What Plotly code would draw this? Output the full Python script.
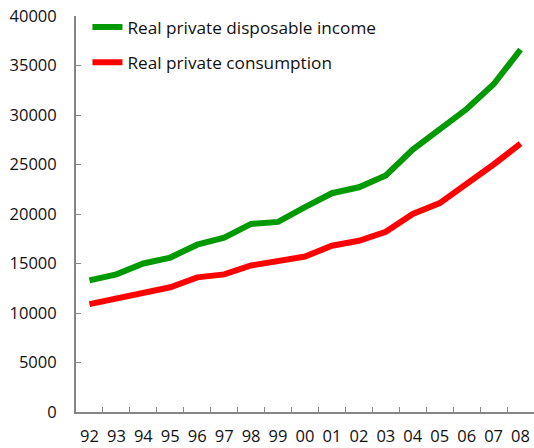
import plotly.graph_objects as go

years = ["92", "93", "94", "95", "96", "97", "98", "99", "00",
         "01", "02", "03", "04", "05", "06", "07", "08"]
disposable_income = [13300, 13900, 15000, 15600, 16900, 17600, 19000, 19200, 20700,
                     22100, 22700, 23900, 26500, 28600, 30600, 33100, 36600]
consumption = [10900, 11500, 12000, 12600, 13600, 13900, 14800, 15200, 15700,
               16800, 17300, 18200, 20000, 21100, 23000, 25000, 27100]

FONT = "'Open Sans', 'Noto Sans', sans-serif"
AXIS_GREY = "#868686"

fig = go.Figure()
fig.add_trace(go.Scatter(
    x=years, y=disposable_income, mode="lines",
    name="Real private disposable income", legendgroup="a",
    line=dict(color="#009900", width=6),
))
fig.add_trace(go.Scatter(
    x=years, y=consumption, mode="lines",
    name="Real private consumption", legendgroup="b",
    line=dict(color="#ff0000", width=6),
))

fig.update_layout(
    width=534, height=448,
    margin=dict(l=76, r=0, t=16, b=36, autoexpand=False),
    paper_bgcolor="white", plot_bgcolor="white",
    font=dict(family=FONT, size=16, color="#111111"),
    showlegend=True,
    legend=dict(
        x=0.025, y=1.017, xanchor="left", yanchor="top",
        bgcolor="rgba(0,0,0,0)", font=dict(size=17.2),
        tracegroupgap=10, itemwidth=30,
    ),
)
fig.update_xaxes(
    type="category", range=[-0.5, 16.5], tickangle=0, automargin=False,
    showline=True, linecolor=AXIS_GREY, linewidth=2,
    ticks="inside", tickson="boundaries", ticklen=5, tickcolor=AXIS_GREY, tickwidth=1,
    showgrid=False, zeroline=False, ticklabelstandoff=8,
    tickfont=dict(size=16.5),
)
fig.update_yaxes(
    range=[0, 40000], dtick=5000, tickformat="d", automargin=False,
    showline=True, linecolor=AXIS_GREY, linewidth=2,
    ticks="inside", ticklen=5, tickcolor=AXIS_GREY, tickwidth=1,
    showgrid=False, zeroline=False, ticklabelstandoff=14,
    tickfont=dict(size=16.5),
)

fig.write_html("out.html")
